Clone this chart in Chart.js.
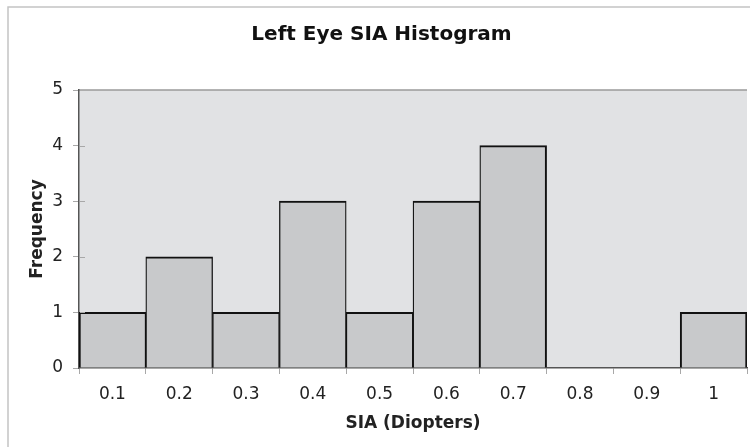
<!DOCTYPE html>
<html>
<head>
<meta charset="utf-8">
<script src="https://cdn.jsdelivr.net/npm/chart.js@4/dist/chart.umd.min.js"></script>
<style>
  html, body { margin: 0; padding: 0; background: #fff; }
  #wrap { width: 750px; height: 447px; }
</style>
</head>
<body>
<div id="wrap"><canvas id="histo" width="750" height="447"></canvas></div>
<script>
// bins (SIA in diopters) and how many eyes fell in each
const binLabels = ['0.1', '0.2', '0.3', '0.4', '0.5', '0.6', '0.7', '0.8', '0.9', '1'];
const frequency = [1, 2, 1, 3, 1, 3, 4, 0, 0, 1];
const yMin = 0;
const yMax = 5;

const FONT = "'DejaVu Sans', Verdana, sans-serif";

// grey plot background + the outer frame lines
const backdrop = {
  id: 'backdrop',
  beforeDraw(chart) {
    const c = chart.ctx;
    const a = chart.chartArea;
    c.save();
    c.fillStyle = '#e1e2e4';
    c.fillRect(a.left, a.top, a.right - a.left, a.bottom - a.top);
    c.strokeStyle = '#9a9a9a';
    c.lineWidth = 1.5;
    c.beginPath();
    c.moveTo(a.left, a.top);
    c.lineTo(a.right, a.top);
    c.stroke();
    // frame
    c.strokeStyle = '#c4c4c4';
    c.lineWidth = 1.5;
    c.beginPath();
    c.moveTo(8, 447);
    c.lineTo(8, 7);
    c.lineTo(750, 7);
    c.stroke();
    c.restore();
  },
  // the y tick marks poke a little into the plot too
  afterDraw(chart) {
    const c = chart.ctx;
    const y = chart.scales.y;
    const left = chart.chartArea.left;
    c.save();
    c.strokeStyle = '#a8a8a8';
    c.lineWidth = 1;
    y.ticks.forEach(t => {
      if (t.value === yMin || t.value === yMax) return;
      const py = Math.round(y.getPixelForValue(t.value)) + 0.5;
      c.beginPath();
      c.moveTo(left + 1, py);
      c.lineTo(left + 6, py);
      c.stroke();
    });
    c.restore();
  }
};

// neighbouring bars share one edge, so each gets a thinner half of it
function edgeWidth(ctx) {
  const i = ctx.dataIndex;
  const d = ctx.dataset.data;
  return {
    top: 2,
    bottom: 0,
    left: (i > 0 && d[i - 1] > 0) ? 1.3 : 2,
    right: (i < d.length - 1 && d[i + 1] > 0) ? 1.3 : 2
  };
}

const ctx = document.getElementById('histo').getContext('2d');
const chart = new Chart(ctx, {
  type: 'bar',
  data: {
    labels: binLabels,
    datasets: [{
      data: frequency,
      backgroundColor: '#c8c9cb',
      borderColor: '#111',
      borderWidth: edgeWidth,
      borderSkipped: false,
      categoryPercentage: 1.0,
      barPercentage: 1.0
    }]
  },
  options: {
    responsive: false,
    animation: false,
    layout: { padding: { left: 16, right: 3, top: 7, bottom: 0 } },
    plugins: {
      legend: { display: false },
      tooltip: { enabled: false },
      title: {
        display: true,
        text: 'Left Eye SIA Histogram',
        color: '#111',
        font: { family: FONT, size: 20, weight: 'bold' },
        padding: { top: 16, bottom: 43 }
      }
    },
    scales: {
      x: {
        offset: true,
        grid: {
          offset: true,
          drawOnChartArea: false,
          tickLength: 6,
          color: '#a8a8a8'
        },
        border: { color: '#555', width: 1.5 },
        ticks: {
          color: '#222',
          padding: 10,
          font: { family: FONT, size: 17 }
        },
        title: {
          display: true,
          text: 'SIA (Diopters)',
          color: '#222',
          font: { family: FONT, size: 17, weight: 'bold' },
          padding: { top: 0, bottom: 13 }
        },
        afterFit(scale) { scale.height = 79; }
      },
      y: {
        min: yMin,
        max: yMax,
        grid: {
          drawOnChartArea: false,
          tickLength: 6,
          color: '#a8a8a8'
        },
        border: { color: '#555', width: 1.5 },
        ticks: {
          stepSize: 1,
          color: '#222',
          padding: 10,
          font: { family: FONT, size: 17 }
        },
        title: {
          display: true,
          text: 'Frequency',
          color: '#222',
          font: { family: FONT, size: 17, weight: 'bold' },
          padding: { top: 11, bottom: 0 }
        },
        afterFit(scale) { scale.width = 63; }
      }
    }
  },
  plugins: [backdrop]
});
</script>
</body>
</html>
